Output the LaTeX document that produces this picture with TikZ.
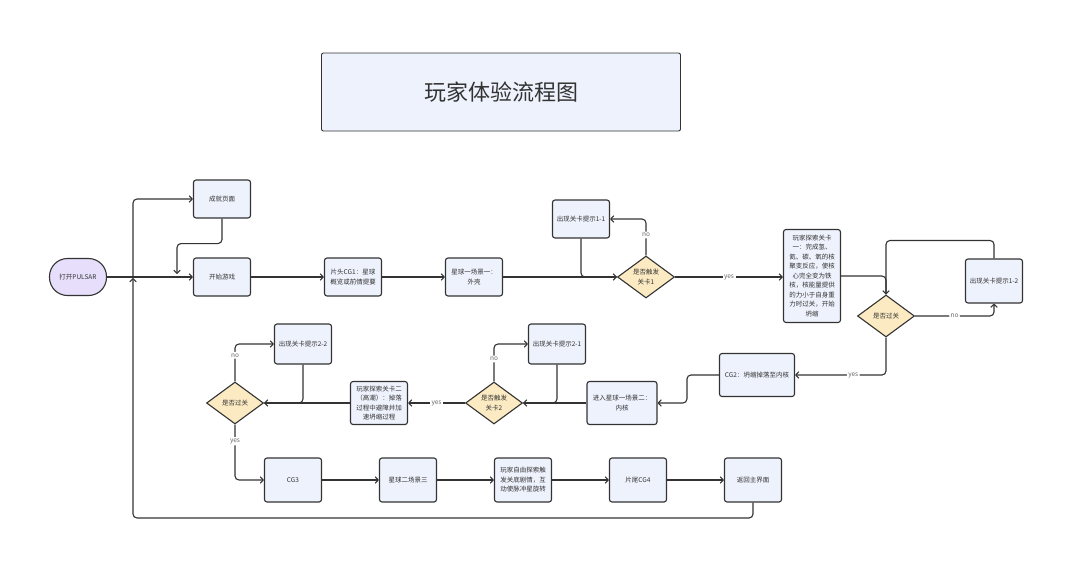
\documentclass[tikz,border=0pt]{standalone}
\usepackage{fontspec}
\setmainfont{Noto Sans CJK SC}
\usetikzlibrary{arrows.meta,shapes.geometric}

\definecolor{ink}{HTML}{333333}
\definecolor{boxfill}{HTML}{EEF2FC}
\definecolor{askfill}{HTML}{FCEAC2}
\definecolor{openfill}{HTML}{E6DEFA}

\begin{document}
\begin{tikzpicture}[x=1pt,y=-1pt,color=ink,line width=1.1pt,
	-{Straight Barb[length=3pt,width=6.5pt]},
	font=\fontsize{6.5}{9.5}\selectfont,
	box/.style={draw,fill=boxfill,rounded corners=2.5pt,minimum width=57pt,minimum height=38pt,align=center,inner sep=2pt},
	ask/.style={draw,fill=askfill,diamond,aspect=1.33,minimum width=57pt,minimum height=42pt,inner sep=0pt,align=center},
	openbox/.style={draw,fill=openfill,rounded corners=18pt,minimum width=57pt,minimum height=37pt},
	lbl/.style={fill=white,text=ink!75,inner sep=1.5pt,font=\fontsize{6.5}{8}\selectfont}]
	\useasboundingbox (0,0) rectangle (1080,582);

	\node[draw,fill=boxfill,rounded corners=2pt,line width=0.9pt,minimum width=359pt,minimum height=78pt,font=\fontsize{22}{26}\selectfont] (title) at (501,92) {玩家体验流程图};

	% first row
	\node[openbox] (open) at (78,277) {打开PULSAR};
	\node[box] (achv) at (222,199) {成就页面};
	\node[box] (start) at (222,277) {开始游戏};
	\node[box] (cg1) at (353,277) {片头CG1：星球\\概览或前情提要};
	\node[box] (shell) at (474,277) {星球一场景一：\\外壳};
	\node[box] (hint11) at (581,219) {出现关卡提示1-1};
	\node[ask] (q1) at (646,277) {是否触发\\关卡1};
	\node[box,minimum height=93pt] (lv1) at (812,276) {玩家探索关卡\\一：完成氢、\\氦、碳、氧的核\\聚变反应，使核\\心完全变为铁\\核，核能量提供\\的力小于自身重\\力时过关，开始\\坍缩};
	\node[ask] (pass1) at (886,316) {是否过关};
	\node[box,minimum height=44pt] (hint12) at (994,281) {出现关卡提示1-2};

	% second row
	\node[box,minimum width=75pt,minimum height=43pt] (cg2) at (757,375) {CG2：坍缩掉落至内核};
	\node[box,minimum width=70pt,minimum height=43pt] (core) at (622,403) {进入星球一场景二：\\内核};
	\node[box,minimum height=40pt] (hint21) at (557,344) {出现关卡提示2-1};
	\node[ask] (q2) at (494,403) {是否触发\\关卡2};
	\node[box,minimum height=43pt] (lv2) at (379,403) {玩家探索关卡二\\（高潮）：掉落\\过程中避障并加\\速坍缩过程};
	\node[box,minimum height=40pt] (hint22) at (303,344) {出现关卡提示2-2};
	\node[ask] (pass2) at (235,403) {是否过关};

	% third row
	\node[box,minimum height=44pt] (cg3) at (293,480) {CG3};
	\node[box,minimum height=44pt] (scene3) at (408,480) {星球二场景三};
	\node[box,minimum height=44pt] (free) at (523,480) {玩家自由探索触\\发关底剧情，互\\动使脉冲星旋转};
	\node[box,minimum height=44pt] (cg4) at (638,480) {片尾CG4};
	\node[box,minimum height=44pt] (home) at (753,480) {返回主界面};

	\coordinate (loopup) at (133,278);
	\coordinate (lowrail) at (133,518);
	\coordinate (achvdrop) at (177,274);

	\draw (open) to (start);
	\draw[rounded corners=4pt] (home.south) |- (lowrail) to (loopup);
	\draw[rounded corners=4pt] (loopup) |- (achv.west);
	\draw[rounded corners=4pt] (achv.south) -- ++(0,25) -| (achvdrop);
	\draw (start) to (cg1);
	\draw (cg1) to (shell);
	\draw (shell) to (q1);
	\draw[-,rounded corners=4pt] (hint11.south) |- (q1.west);
	\draw[rounded corners=4pt] (q1.north) |- node[lbl,pos=0.28] {no} (hint11.east);
	\draw (q1.east) to node[lbl] {yes} (q1.east -| lv1.west);
	\draw[rounded corners=4pt] (lv1.east) -| (pass1.north);
	\draw[-,rounded corners=4pt] (hint12.north) -- ++(0,-18) -| (pass1.north);
	\draw[rounded corners=4pt] (pass1.east) -| node[lbl,pos=0.25] {no} (hint12.south);
	\draw[rounded corners=4pt] (pass1.south) |- node[lbl,pos=0.68] {yes} (cg2.east);
	\draw[rounded corners=4pt] (cg2.west) -- ++(-32,0) |- (core.east);
	\draw (core) to (q2);
	\draw[-,rounded corners=4pt] (hint21.south) |- (q2.east);
	\draw[rounded corners=4pt] (q2.north) |- node[lbl,pos=0.3] {no} (hint21.west);
	\draw (q2) to node[lbl] {yes} (lv2);
	\draw (lv2) to (pass2);
	\draw[-,rounded corners=4pt] (hint22.south) |- (pass2.east);
	\draw[rounded corners=4pt] (pass2.north) |- node[lbl,pos=0.35] {no} (hint22.west);
	\draw[rounded corners=4pt] (pass2.south) |- node[lbl,pos=0.15] {yes} (cg3.west);
	\draw (cg3) to (scene3);
	\draw (scene3) to (free);
	\draw (free) to (cg4);
	\draw (cg4) to (home);
\end{tikzpicture}
\end{document}
